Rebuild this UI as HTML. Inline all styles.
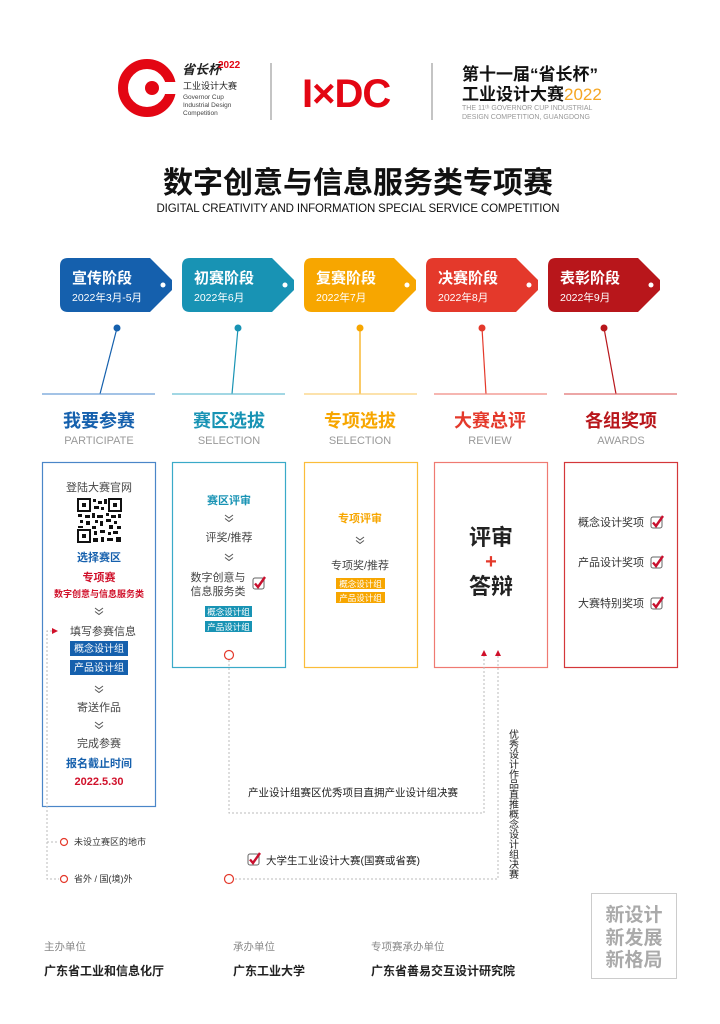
<!DOCTYPE html>
<html><head><meta charset="utf-8"><style>
html,body{margin:0;padding:0;background:#fff;}
svg{display:block;font-family:"Liberation Sans","Noto Sans CJK SC",sans-serif;}
.b{font-weight:bold;}
</style></head><body>
<svg width="720" height="1024" viewBox="0 0 720 1024" xmlns="http://www.w3.org/2000/svg">
<defs>
<g id="chk"><rect x="0" y="0" width="11" height="11" rx="2" fill="#fff" stroke="#666" stroke-width="1"/><path d="M2 5.5 L5 9 L12 -1" fill="none" stroke="#c8102e" stroke-width="2.4"/></g>
<g id="chev"><path d="M-4 0 L0 3 L4 0 M-4 3.5 L0 6.5 L4 3.5" fill="none" stroke="#555" stroke-width="1"/></g>
</defs>
<!-- header -->
<circle cx="147" cy="88" r="24" fill="none" stroke="#e30613" stroke-width="10"/>
<rect x="147" y="82" width="30" height="12" fill="#fff"/>
<circle cx="152" cy="88" r="7" fill="#e30613"/>
<text x="182" y="74" font-size="13" class="b" fill="#222" font-style="italic">省长杯</text>
<text x="218" y="68" font-size="10" class="b" fill="#e30613">2022</text>
<text x="183" y="89" font-size="9" fill="#222">工业设计大赛</text>
<text x="183" y="99" font-size="6.5" fill="#444">Governor Cup</text>
<text x="183" y="107" font-size="6.5" fill="#444">Industrial Design</text>
<text x="183" y="115" font-size="6.5" fill="#444">Competition</text>
<line x1="271" y1="63" x2="271" y2="120" stroke="#888" stroke-width="1"/>
<text x="302" y="107" font-size="40" class="b" fill="#e30613" letter-spacing="-1">I×DC</text>
<line x1="432" y1="63" x2="432" y2="120" stroke="#888" stroke-width="1"/>
<text x="462" y="80" font-size="17" class="b" fill="#111">第十一届“省长杯”</text>
<text x="462" y="100" font-size="17" class="b" fill="#111">工业设计大赛<tspan fill="#f5a623" font-weight="normal">2022</tspan></text>
<text x="462" y="110" font-size="7" fill="#999">THE 11ᵗʰ GOVERNOR CUP INDUSTRIAL</text>
<text x="462" y="119" font-size="7" fill="#999">DESIGN COMPETITION, GUANGDONG</text>
<!-- title -->
<text x="358" y="193" font-size="30" class="b" fill="#111" text-anchor="middle">数字创意与信息服务类专项赛</text>
<text x="358" y="212" font-size="11.5" fill="#111" text-anchor="middle" textLength="403">DIGITAL CREATIVITY AND INFORMATION SPECIAL SERVICE COMPETITION</text>
<!-- tags -->
<g>
<path d="M68 258 H150 L172 280 V290 L150 312 H68 Q60 312 60 304 V266 Q60 258 68 258Z" fill="#1560ad"/>
<path d="M190 258 H272 L294 280 V290 L272 312 H190 Q182 312 182 304 V266 Q182 258 190 258Z" fill="#1893b4"/>
<path d="M312 258 H394 L416 280 V290 L394 312 H312 Q304 312 304 304 V266 Q304 258 312 258Z" fill="#f7a600"/>
<path d="M434 258 H516 L538 280 V290 L516 312 H434 Q426 312 426 304 V266 Q426 258 434 258Z" fill="#e4392b"/>
<path d="M556 258 H638 L660 280 V290 L638 312 H556 Q548 312 548 304 V266 Q548 258 556 258Z" fill="#b8161b"/>
<g fill="#fff"><circle cx="163" cy="285" r="2.5"/><circle cx="285" cy="285" r="2.5"/><circle cx="407" cy="285" r="2.5"/><circle cx="529" cy="285" r="2.5"/><circle cx="651" cy="285" r="2.5"/></g>
<g fill="#fff" font-size="15" class="b">
<text x="72" y="283">宣传阶段</text><text x="194" y="283">初赛阶段</text><text x="316" y="283">复赛阶段</text><text x="438" y="283">决赛阶段</text><text x="560" y="283">表彰阶段</text></g>
<g fill="#fff" font-size="10.5">
<text x="72" y="301">2022年3月-5月</text><text x="194" y="301">2022年6月</text><text x="316" y="301">2022年7月</text><text x="438" y="301">2022年8月</text><text x="560" y="301">2022年9月</text></g>
</g>
<!-- pins -->
<g stroke-width="1.2">
<line x1="117" y1="328" x2="100" y2="394" stroke="#1560ad"/><circle cx="117" cy="328" r="3.5" fill="#1560ad"/>
<line x1="238" y1="328" x2="232" y2="394" stroke="#1893b4"/><circle cx="238" cy="328" r="3.5" fill="#1893b4"/>
<line x1="360" y1="328" x2="360" y2="394" stroke="#f7a600"/><circle cx="360" cy="328" r="3.5" fill="#f7a600"/>
<line x1="482" y1="328" x2="486" y2="394" stroke="#e4392b"/><circle cx="482" cy="328" r="3.5" fill="#e4392b"/>
<line x1="604" y1="328" x2="616" y2="394" stroke="#b8161b"/><circle cx="604" cy="328" r="3.5" fill="#b8161b"/>
<line x1="42" y1="394" x2="155" y2="394" stroke="#6c9fd6"/>
<line x1="172" y1="394" x2="285" y2="394" stroke="#6bbfd3"/>
<line x1="304" y1="394" x2="417" y2="394" stroke="#fbd07a"/>
<line x1="434" y1="394" x2="547" y2="394" stroke="#f08a82"/>
<line x1="564" y1="394" x2="677" y2="394" stroke="#e07070"/>
</g>
<g font-size="18" class="b" text-anchor="middle">
<text x="99" y="427" fill="#1560ad">我要参赛</text><text x="229" y="427" fill="#1893b4">赛区选拔</text><text x="360" y="427" fill="#f7a600">专项选拔</text><text x="490" y="427" fill="#e4392b">大赛总评</text><text x="621" y="427" fill="#b8161b">各组奖项</text></g>
<g font-size="11" fill="#999" text-anchor="middle">
<text x="99" y="444">PARTICIPATE</text><text x="229" y="444">SELECTION</text><text x="360" y="444">SELECTION</text><text x="490" y="444">REVIEW</text><text x="621" y="444">AWARDS</text></g>
<!-- boxes -->
<rect x="42.5" y="462.5" width="113" height="344" fill="none" stroke="#4a86c8" stroke-width="1.2"/>
<rect x="172.5" y="462.5" width="113" height="205" fill="none" stroke="#3aaac8" stroke-width="1.2"/>
<rect x="304.5" y="462.5" width="113" height="205" fill="none" stroke="#fbbd3a" stroke-width="1.2"/>
<rect x="434.5" y="462.5" width="113" height="205" fill="none" stroke="#ef7a72" stroke-width="1.2"/>
<rect x="564.5" y="462.5" width="113" height="205" fill="none" stroke="#d4373a" stroke-width="1.2"/>
<!-- box1 -->
<g text-anchor="middle" font-size="11" fill="#444">
<text x="99" y="491">登陆大赛官网</text>
<text x="99" y="561" fill="#1560ad" class="b">选择赛区</text>
<text x="99" y="581" fill="#d0102a" class="b">专项赛</text>
<text x="99" y="597" fill="#d0102a" class="b" font-size="9">数字创意与信息服务类</text>
<text x="103" y="635">填写参赛信息</text>
<text x="99" y="711">寄送作品</text>
<text x="99" y="747">完成参赛</text>
<text x="99" y="767" fill="#1560ad" class="b">报名截止时间</text>
<text x="99" y="785" fill="#d0102a" class="b">2022.5.30</text>
</g>
<g>
<rect x="78" y="499" width="43" height="43" fill="#fff"/>
<rect x="78" y="499" width="12" height="12" fill="none" stroke="#111" stroke-width="2"/><rect x="82" y="503" width="4" height="4" fill="#111"/>
<rect x="109" y="499" width="12" height="12" fill="none" stroke="#111" stroke-width="2"/><rect x="113" y="503" width="4" height="4" fill="#111"/>
<rect x="78" y="530" width="12" height="12" fill="none" stroke="#111" stroke-width="2"/><rect x="82" y="534" width="4" height="4" fill="#111"/>
<g fill="#111"><rect x="93" y="499" width="3" height="3"/><rect x="98" y="501" width="4" height="3"/><rect x="104" y="499" width="3" height="5"/><rect x="94" y="506" width="5" height="3"/><rect x="101" y="507" width="3" height="3"/><rect x="78" y="514" width="4" height="3"/><rect x="85" y="515" width="5" height="3"/><rect x="92" y="513" width="3" height="5"/><rect x="97" y="515" width="6" height="3"/><rect x="106" y="513" width="3" height="3"/><rect x="111" y="515" width="5" height="3"/><rect x="118" y="514" width="3" height="4"/><rect x="80" y="520" width="3" height="3"/><rect x="86" y="521" width="4" height="4"/><rect x="95" y="520" width="3" height="3"/><rect x="100" y="521" width="3" height="5"/><rect x="106" y="519" width="5" height="3"/><rect x="114" y="521" width="3" height="3"/><rect x="78" y="526" width="5" height="2"/><rect x="92" y="526" width="4" height="3"/><rect x="109" y="525" width="4" height="4"/><rect x="117" y="526" width="4" height="3"/><rect x="94" y="531" width="3" height="4"/><rect x="100" y="530" width="5" height="3"/><rect x="108" y="532" width="3" height="3"/><rect x="113" y="531" width="5" height="3"/><rect x="93" y="538" width="5" height="4"/><rect x="101" y="537" width="3" height="5"/><rect x="107" y="538" width="6" height="3"/><rect x="116" y="537" width="5" height="5"/></g>
</g>
<use href="#chev" x="99" y="608"/>
<use href="#chev" x="99" y="686"/>
<use href="#chev" x="99" y="722"/>
<rect x="70" y="641" width="58" height="15" fill="#1560ad"/><rect x="70" y="660" width="58" height="15" fill="#1560ad"/>
<g font-size="10" fill="#fff" text-anchor="middle"><text x="99" y="652">概念设计组</text><text x="99" y="671">产品设计组</text></g>
<!-- box2 -->
<g text-anchor="middle" font-size="11" fill="#444">
<text x="229" y="504" fill="#1893b4" class="b">赛区评审</text>
<text x="229" y="541">评奖/推荐</text>
<text x="218" y="581">数字创意与</text>
<text x="218" y="595">信息服务类</text>
</g>
<use href="#chev" x="229" y="515"/><use href="#chev" x="229" y="554"/>
<use href="#chk" x="253" y="578"/>
<rect x="205" y="606" width="47" height="11" fill="#1893b4"/><rect x="205" y="621" width="47" height="11" fill="#1893b4"/>
<g font-size="8.5" fill="#fff" text-anchor="middle"><text x="228.5" y="615">概念设计组</text><text x="228.5" y="630">产品设计组</text></g>
<!-- box3 -->
<g text-anchor="middle" font-size="11" fill="#444">
<text x="360" y="522" fill="#f7a600" class="b">专项评审</text>
<text x="360" y="569">专项奖/推荐</text></g>
<use href="#chev" x="360" y="537"/>
<rect x="336" y="578" width="49" height="11" fill="#f7a600"/><rect x="336" y="592" width="49" height="11" fill="#f7a600"/>
<g font-size="8.5" fill="#fff" text-anchor="middle"><text x="360.5" y="587">概念设计组</text><text x="360.5" y="601">产品设计组</text></g>
<!-- box4 -->
<g text-anchor="middle" class="b" fill="#222" font-size="22">
<text x="491" y="545">评审</text><text x="491" y="568" fill="#e4392b" font-size="20">+</text><text x="491" y="594">答辩</text></g>
<path d="M484 650 L481 656 L487 656Z M498 650 L495 656 L501 656Z" fill="#d0102a"/>
<!-- box5 -->
<g font-size="11" fill="#333"><text x="578" y="526">概念设计奖项</text><text x="578" y="566">产品设计奖项</text><text x="578" y="607">大赛特别奖项</text></g>
<use href="#chk" x="651" y="517"/><use href="#chk" x="651" y="557"/><use href="#chk" x="651" y="598"/>
<!-- connectors -->
<g fill="none" stroke="#bbb" stroke-width="1" stroke-dasharray="2,2">
<path d="M229 660 V813 H484 V656"/>
<path d="M498 656 V879 H235"/>
<path d="M56 631 H47 V879 H59 M47 842 H59"/>
</g>
<path d="M52 628 L58 631 L52 634Z" fill="#d0102a"/>
<g fill="#fff" stroke="#e4392b" stroke-width="1.2"><circle cx="229" cy="655" r="4.5"/><circle cx="229" cy="879" r="4.5"/><circle cx="64" cy="842" r="3.5"/><circle cx="64" cy="879" r="3.5"/></g>
<text x="248" y="796" font-size="10.5" fill="#222">产业设计组赛区优秀项目直拥产业设计组决赛</text>
<use href="#chk" x="248" y="854"/>
<text x="266" y="864" font-size="10.5" fill="#222">大学生工业设计大赛(国赛或省赛)</text>
<g font-size="9" fill="#333"><text x="74" y="845">未设立赛区的地市</text><text x="74" y="882">省外 / 国(境)外</text></g>
<g font-size="10" fill="#222" text-anchor="middle">
<text x="514" y="738">优</text><text x="514" y="748">秀</text><text x="514" y="758">设</text><text x="514" y="768">计</text><text x="514" y="778">作</text><text x="514" y="788">品</text><text x="514" y="798">直</text><text x="514" y="808">推</text><text x="514" y="818">概</text><text x="514" y="828">念</text><text x="514" y="838">设</text><text x="514" y="848">计</text><text x="514" y="858">组</text><text x="514" y="868">决</text><text x="514" y="878">赛</text>
</g>
<!-- footer -->
<g font-size="10.5" fill="#888"><text x="44" y="950">主办单位</text><text x="233" y="950">承办单位</text><text x="371" y="950">专项赛承办单位</text></g>
<g font-size="12" class="b" fill="#222"><text x="44" y="975">广东省工业和信息化厅</text><text x="233" y="975">广东工业大学</text><text x="371" y="975">广东省善易交互设计研究院</text></g>
<rect x="591.5" y="893.5" width="85" height="85" fill="none" stroke="#ccc"/>
<g font-size="19" class="b" fill="#aaa" text-anchor="middle"><text x="634" y="921">新设计</text><text x="634" y="944">新发展</text><text x="634" y="966">新格局</text></g>
</svg>
</body></html>
